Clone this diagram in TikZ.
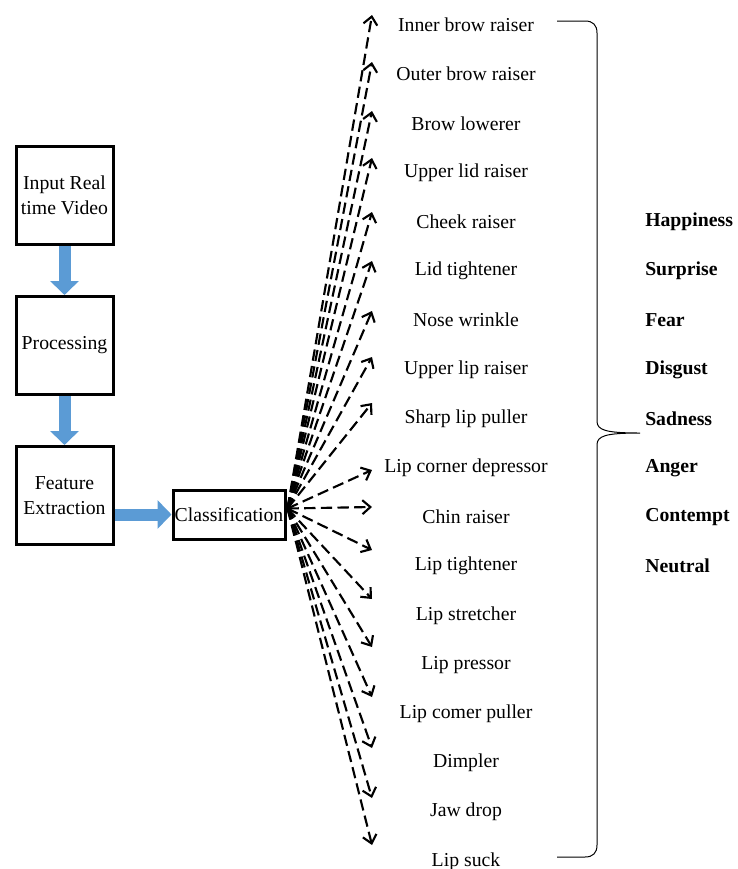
\documentclass[tikz,border=0pt]{standalone}
\usepackage{fontspec}
\setmainfont{Liberation Serif}
\usetikzlibrary{positioning,arrows.meta,calc}

\definecolor{arrowblue}{RGB}{91,155,213}

\tikzset{
  box/.style={draw,rectangle,line width=2.25pt,minimum width=72.75pt,minimum height=73.5pt,inner sep=1pt,align=center},
  clsbox/.style={draw,rectangle,line width=2.25pt,minimum width=84pt,minimum height=36.75pt,inner sep=1pt},
  blockarrow/.style={arrowblue,line width=9pt,-{Triangle[length=10.5pt,width=21pt]}},
  aulink/.style={->,line width=1.6pt,dash pattern=on 8.5pt off 4pt},
  emo/.style={anchor=west,inner sep=0pt,font=\fontsize{14.8}{18.5}\selectfont\bfseries},
}

\begin{document}
\begin{tikzpicture}[x=0.75pt,y=-0.75pt,node distance=36.75pt,
  every node/.style={font=\fontsize{14.8}{18.5}\selectfont},
  >={Straight Barb[length=6pt,width=10.5pt]}]
\useasboundingbox (0,0) rectangle (738,869);

% pipeline
\node[box] (inp) at (64.5,195.5) {Input Real\\time Video};
\node[box,below=of inp] (proc) {Processing};
\node[box,below=of proc] (feat) {Feature\\Extraction};
\node[clsbox] (cls) at (229,514.5) {Classification};
\draw[blockarrow] (inp.south) -- (proc.north);
\draw[blockarrow] (proc.south) -- (feat.north);
\draw[blockarrow] (feat.east |- cls.west) -- (cls.west);

% action units
\coordinate (hub) at ($(cls.east)+(1,-6)$);
\foreach \t/\ty [count=\i] in {Inner brow raiser/15,Outer brow raiser/62,Brow lowerer/111,
    Upper lid raiser/158,Cheek raiser/212,Lid tightener/261,Nose wrinkle/311,
    Upper lip raiser/357,Sharp lip puller/403,Lip corner depressor/470,Chin raiser/507,
    Lip tightener/550,Lip stretcher/599,Lip pressor/647,Lip comer puller/697,
    Dimpler/748,Jaw drop/798,Lip suck/845}{
  \node (au\i) at (466,{25+(\i-1)*49.2}) {\t};
  \coordinate (tip\i) at (372,\ty);
  \draw[aulink] (hub) -- (tip\i);
}

% brace
\draw[line width=0.75pt] (557,21) -- (585,21) .. controls (593,21) and (597,25) .. (597,33)
  -- (597,421) .. controls (597,430) and (605,433) .. (640,433)
  .. controls (605,433) and (597,436) .. (597,445)
  -- (597,845) .. controls (597,853) and (593,857) .. (585,857) -- (557,857);

% emotions
\foreach \e [count=\j] in {Happiness,Surprise,Fear,Disgust,Sadness,Anger,Contempt,Neutral}
  \node[emo] (emo\j) at (645,{221.8+(\j-1)*49.2}) {\e};
\end{tikzpicture}
\end{document}
